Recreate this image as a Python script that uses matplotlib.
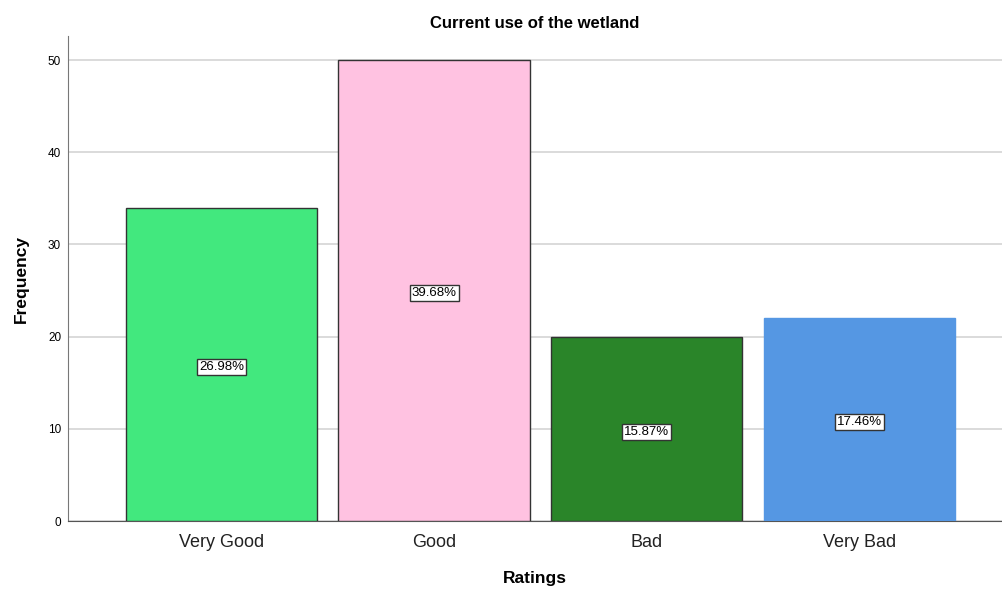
import matplotlib
matplotlib.use("Agg")
import matplotlib.pyplot as plt

plt.rcParams['font.family'] = ['Liberation Sans', 'DejaVu Sans']

categories = ["Very Good", "Good", "Bad", "Very Bad"]
frequencies = [34, 50, 20, 22]
percent_labels = ["26.98%", "39.68%", "15.87%", "17.46%"]
colors = ["#42E87E", "#FFC2E1", "#2A8529", "#5597E3"]
edgecolors = ["#333333", "#333333", "#333333", "#5597E3"]
yticks = [0, 10, 20, 30, 40, 50]

fig = plt.figure(figsize=(10.02, 5.9), dpi=100)
ax = fig.add_axes([0.0679, 0.1169, 0.932, 0.822])

x = list(range(len(categories)))
ax.bar(x, frequencies, width=0.9, color=colors, edgecolor=edgecolors, linewidth=1.0, zorder=3)
for xi, v, lab in zip(x, frequencies, percent_labels):
    ax.text(xi, v / 2 - 0.3, lab, ha='center', va='center', fontsize=9.5, color='black', zorder=5,
            bbox=dict(boxstyle='square,pad=0.15', facecolor='white', edgecolor='#333333', linewidth=1.0))

ax.set_xlim(-0.722, 3.67)
ax.set_ylim(0, 52.6)
ax.set_yticks(yticks)
ax.set_xticks(x)
ax.set_xticklabels(categories, fontsize=13, color='#222222')
ax.tick_params(axis='x', length=0, pad=9)
ax.tick_params(axis='y', length=0, labelsize=8.5, pad=5)
ax.yaxis.grid(True, color='#d4d4d4', linewidth=1.2, zorder=0)
ax.set_axisbelow(True)
for s in ['top', 'right']:
    ax.spines[s].set_visible(False)
ax.spines['left'].set_color('#777777')
ax.spines['bottom'].set_color('#555555')

ax.set_title("Current use of the wetland", fontsize=12, fontweight='bold', pad=6)
ax.set_ylabel("Frequency", fontsize=12.5, fontweight='bold', labelpad=14)
ax.set_xlabel("Ratings", fontsize=12.5, fontweight='bold', labelpad=15)

fig.savefig("out.png", dpi=100)
